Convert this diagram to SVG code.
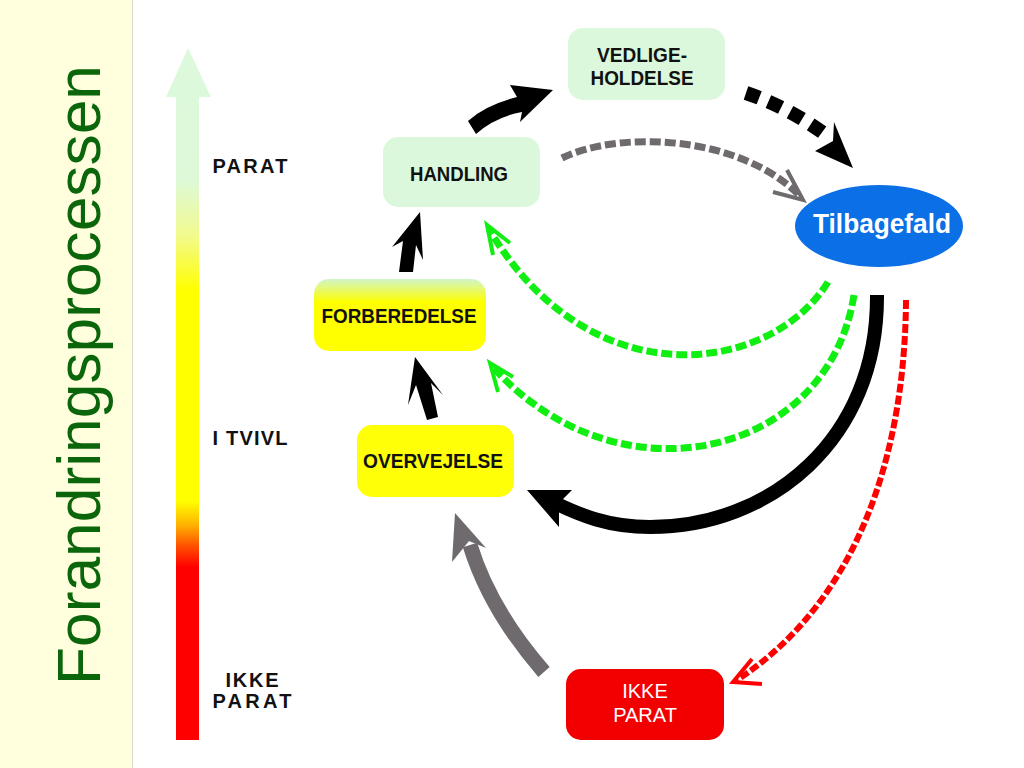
<svg xmlns="http://www.w3.org/2000/svg" width="1024" height="768" viewBox="0 0 1024 768">
<defs>
<style>
.lbl{font-family:"Liberation Sans",Arial,sans-serif;font-weight:bold;font-size:21px;fill:#111;text-anchor:middle}
.side{font-family:"Liberation Sans",Arial,sans-serif;font-weight:bold;font-size:20px;fill:#111;text-anchor:middle}
.wht{font-family:"Liberation Sans",Arial,sans-serif;font-size:20px;fill:#fff;text-anchor:middle}
.dash{fill:none}
.vhead{fill:none;stroke-linejoin:miter;stroke-linecap:butt}
</style>
<linearGradient id="scale" x1="0" y1="48" x2="0" y2="740" gradientUnits="userSpaceOnUse">
<stop offset="0" stop-color="#DDF9DD"/>
<stop offset="0.19" stop-color="#DDF9D8"/>
<stop offset="0.27" stop-color="#F2FA90"/>
<stop offset="0.35" stop-color="#FFFF00"/>
<stop offset="0.655" stop-color="#FFFF00"/>
<stop offset="0.69" stop-color="#FFB000"/>
<stop offset="0.72" stop-color="#FF5000"/>
<stop offset="0.75" stop-color="#FF0000"/>
<stop offset="1" stop-color="#FF0000"/>
</linearGradient>
<linearGradient id="forb" x1="0" y1="0" x2="0" y2="1">
<stop offset="0" stop-color="#D0F5C8"/>
<stop offset="0.32" stop-color="#FFFF00"/>
<stop offset="1" stop-color="#FFFF00"/>
</linearGradient>
</defs>
<rect x="0" y="0" width="1024" height="768" fill="#FFFFFF"/>
<rect x="0" y="0" width="132" height="768" fill="#FFFFDE"/>
<line x1="132.5" y1="0" x2="132.5" y2="768" stroke="#D9D9CC" stroke-width="1"/>
<text x="100" y="375" transform="rotate(-90 100 375)" font-family="'Liberation Sans',Arial,sans-serif" font-size="62" fill="#0B660B" text-anchor="middle" textLength="620" lengthAdjust="spacingAndGlyphs">Forandringsprocessen</text>

<g id="scale-arrow">
<polygon points="176,740 176,97 166,97 188,48 211,97 199,97 199,740" fill="url(#scale)"/>
</g>
<g id="scale-labels">
<text class="side" x="250" y="173" textLength="75" lengthAdjust="spacing">PARAT</text>
<text class="side" x="250" y="445" textLength="75" lengthAdjust="spacing">I TVIVL</text>
<text class="side" x="252" y="687" textLength="53" lengthAdjust="spacing">IKKE</text>
<text class="side" x="252" y="708" textLength="79" lengthAdjust="spacing">PARAT</text>
</g>

<g id="connectors">
<path d="M 468,121 Q 485,105 517,97 L 510,85 L 553,90 L 520,122 L 522,112 Q 495,117 476,134 Z" fill="#000"/>
<path d="M 420,212 L 392,247 L 403,241 L 399,272 L 413,272 L 416,245 L 423,260 Z" fill="#000"/>
<path d="M 415,357 L 408,405 L 416,385 L 427,420 L 438,417 L 431,383 L 443,395 Z" fill="#000"/>
<path d="M 544,672 Q 490,610 470,545" fill="none" stroke="#6E6A6E" stroke-width="15"/>
<path d="M 455,513 L 486,548 L 469,541 L 452,562 Z" fill="#6E6A6E"/>
<path class="dash" d="M 746,93 Q 790,108 826,135" stroke="#000" stroke-width="14" stroke-dasharray="14 10"/>
<path d="M 853,168 L 834,122 L 833,141 L 815,151 Z" fill="#000"/>
<path class="dash" d="M 562,158 C 620,130 740,135 800,196" stroke="#6E6A6E" stroke-width="7" stroke-dasharray="11 4"/>
<polyline class="vhead" points="787,170 803,200 773,192" stroke="#6E6A6E" stroke-width="4"/>
<path class="dash" d="M 828,282 C 770,375 590,400 489,229" stroke="#11EE11" stroke-width="7" stroke-dasharray="11 4"/>
<polyline class="vhead" points="510,243 487,225 493,255" stroke="#11EE11" stroke-width="4"/>
<path class="dash" d="M 854,295 C 828,460 615,505 492,366" stroke="#11EE11" stroke-width="7" stroke-dasharray="11 4"/>
<polyline class="vhead" points="513,377 490,363 498,392" stroke="#11EE11" stroke-width="4"/>
<path d="M 877,295 C 878,440 770,527 650,527 C 608,527 580,515 555,503" fill="none" stroke="#000" stroke-width="14"/>
<path d="M 527,490 L 572,490 L 559,503 L 559,527 Z" fill="#000"/>
<path class="dash" d="M 906,300 C 905,450 860,600 737,680" stroke="#FF0000" stroke-width="6" stroke-dasharray="9 3"/>
<polyline class="vhead" points="752,659 733,682 762,684" stroke="#FF0000" stroke-width="4"/>
</g>

<g id="node-vedligeholdelse">
<rect x="568" y="28" width="157" height="72" rx="15" fill="#DCF8DC"/>
<text class="lbl" x="642" y="62" textLength="90" lengthAdjust="spacingAndGlyphs">VEDLIGE-</text>
<text class="lbl" x="642" y="85" textLength="103" lengthAdjust="spacingAndGlyphs">HOLDELSE</text>
</g>
<g id="node-handling">
<rect x="383" y="137" width="157" height="70" rx="15" fill="#DCF8DC"/>
<text class="lbl" x="459" y="181" textLength="98" lengthAdjust="spacingAndGlyphs">HANDLING</text>
</g>
<g id="node-forberedelse">
<rect x="314" y="279" width="172" height="72" rx="15" fill="url(#forb)"/>
<text class="lbl" x="399" y="323" textLength="155" lengthAdjust="spacingAndGlyphs">FORBEREDELSE</text>
</g>
<g id="node-overvejelse">
<rect x="357" y="425" width="157" height="72" rx="15" fill="#FFFF08"/>
<text class="lbl" x="433" y="468" textLength="140" lengthAdjust="spacingAndGlyphs">OVERVEJELSE</text>
</g>
<g id="node-tilbagefald">
<ellipse cx="879" cy="226" rx="84" ry="41" fill="#0B6FE5"/>
<text x="882" y="233" font-family="'Liberation Sans',Arial,sans-serif" font-weight="bold" font-size="27" fill="#FFFFFF" text-anchor="middle" textLength="138" lengthAdjust="spacingAndGlyphs">Tilbagefald</text>
</g>
<g id="node-ikke-parat">
<rect x="566" y="669" width="158" height="71" rx="15" fill="#F20000"/>
<text class="wht" x="645" y="698">IKKE</text>
<text class="wht" x="645" y="722">PARAT</text>
</g>
</svg>
